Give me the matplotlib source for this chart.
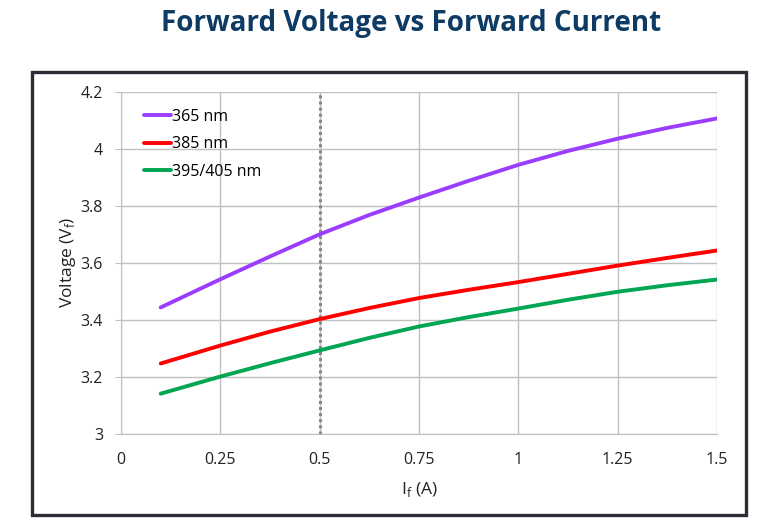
import matplotlib
matplotlib.use("Agg")
import matplotlib.pyplot as plt
from matplotlib.patches import Rectangle

current = [0.1, 0.25, 0.375, 0.5, 0.625, 0.75, 0.875, 1.0, 1.125, 1.25, 1.375, 1.5]
v_365 = [3.443, 3.542, 3.622, 3.700, 3.768, 3.829, 3.888, 3.944, 3.993, 4.036, 4.074, 4.107]
v_385 = [3.246, 3.309, 3.358, 3.402, 3.441, 3.476, 3.505, 3.532, 3.561, 3.590, 3.617, 3.643]
v_395 = [3.140, 3.200, 3.247, 3.292, 3.336, 3.376, 3.409, 3.439, 3.470, 3.498, 3.521, 3.541]
series_labels = ["365 nm", "385 nm", "395/405 nm"]
x_ticks = [0, 0.25, 0.5, 0.75, 1, 1.25, 1.5]
x_tick_labels = ["0", "0.25", "0.5", "0.75", "1", "1.25", "1.5"]
y_ticks = [3, 3.2, 3.4, 3.6, 3.8, 4, 4.2]
y_tick_labels = ["3", "3.2", "3.4", "3.6", "3.8", "4", "4.2"]
marker_current = 0.5

W, H = 769, 528
fig = plt.figure(figsize=(W / 100, H / 100), dpi=100)
plt.rcParams['font.family'] = ['Open Sans', 'DejaVu Sans']

# outer frame
fig.patches.append(Rectangle((32 / W, 1 - 515 / H), (746 - 32) / W, (515 - 72) / H,
                             transform=fig.transFigure, fill=False,
                             edgecolor="#2b2e34", linewidth=2.4, zorder=0))

fig.text(411 / W, 1 - 24 / H, "Forward Voltage vs Forward Current", ha="center", va="center",
         fontsize=20, fontweight="bold", color="#0d3b63")

ax = fig.add_axes([121 / W, 1 - 433.5 / H, (717 - 121) / W, (433.5 - 92) / H])
ax.set_xlim(0, 1.5)
ax.set_ylim(3, 4.2)
ax.set_xticks(x_ticks)
ax.set_xticklabels(x_tick_labels)
ax.set_yticks(y_ticks)
ax.set_yticklabels(y_tick_labels)
ax.grid(True, color="#c0c0c0", linewidth=1.0)
ax.set_axisbelow(True)
for s in ax.spines.values():
    s.set_visible(False)
ax.spines['left'].set_visible(True)
ax.spines['left'].set_color("#c0c0c0")
ax.spines['bottom'].set_visible(True)
ax.spines['bottom'].set_color("#c0c0c0")
ax.tick_params(axis='x', length=0, pad=13, labelsize=11.5, colors="#222222")
ax.tick_params(axis='y', length=4, color="#c0c0c0", pad=9, labelsize=11.5, labelcolor="#222222")

ax.axvline(marker_current, color="#888888", linestyle=(0, (1, 1)), linewidth=2.2, zorder=2)

ax.plot(current, v_365, color="#9b3dff", linewidth=2.8, label=series_labels[0], solid_capstyle="round", zorder=3)
ax.plot(current, v_385, color="#ff0000", linewidth=2.8, label=series_labels[1], solid_capstyle="round", zorder=3)
ax.plot(current, v_395, color="#00a651", linewidth=2.8, label=series_labels[2], solid_capstyle="round", zorder=3)

leg = ax.legend(loc="upper left", frameon=False, fontsize=11.5, handlelength=1.65, handletextpad=0.1,
                labelspacing=0.72, bbox_to_anchor=(0.015, 0.993))

ax.set_xlabel("I$_\\mathregular{f}$ (A)", fontsize=12.5, labelpad=9, color="#222222")
ax.set_ylabel("Voltage (V$_\\mathregular{f}$)", fontsize=12.5, labelpad=2, color="#222222")

fig.savefig("out.png", dpi=100)
